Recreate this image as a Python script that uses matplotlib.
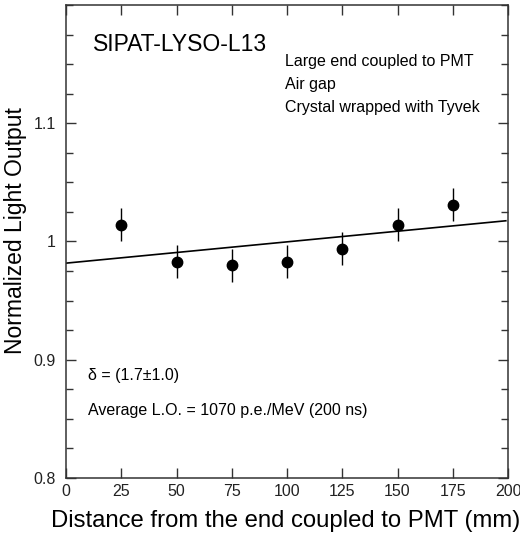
import matplotlib
matplotlib.use("Agg")
import matplotlib.pyplot as plt
import numpy as np
from matplotlib.ticker import MultipleLocator

plt.rcParams['font.family'] = ['Liberation Sans', 'DejaVu Sans']

# Data
distance = [25, 50, 75, 100, 125, 150, 175]
light_output = [1.014, 0.983, 0.980, 0.983, 0.994, 1.014, 1.031]
errors = [0.014, 0.014, 0.014, 0.014, 0.014, 0.014, 0.014]
fit_intercept = 0.9817
fit_slope = 0.000180
fit_range = [0, 199]

fig = plt.figure(figsize=(5.2, 5.35), dpi=100)
ax = fig.add_axes([0.127, 0.1065, 0.85, 0.8842])

xf = np.array(fit_range, dtype=float)
ax.plot(xf, fit_intercept + fit_slope * xf, color='black', lw=1.2)
ax.errorbar(distance, light_output, yerr=errors, fmt='o', color='black',
            ms=7.5, elinewidth=1.0, capsize=0)

ax.set_xlim(0, 200)
ax.set_ylim(0.8, 1.2)
ax.set_xticks([0, 25, 50, 75, 100, 125, 150, 175, 200])
ax.set_yticks([0.8, 0.9, 1.0, 1.1])
ax.set_yticklabels(['0.8', '0.9', '1', '1.1'])
ax.yaxis.set_minor_locator(MultipleLocator(0.025))
ax.tick_params(which='both', direction='in', top=True, right=True,
               labelsize=11.5, color='#333333', labelcolor='#222222')
ax.tick_params(which='major', length=7, width=1)
ax.tick_params(which='minor', length=5, width=1)
ax.tick_params(axis='y', pad=7.5)
ax.tick_params(axis='x', pad=4)
for s in ax.spines.values():
    s.set_color('#333333')
    s.set_linewidth(1.1)

ax.set_xlabel('Distance from the end coupled to PMT (mm)', fontsize=17.2)
ax.xaxis.set_label_coords(0.497, -0.068)
ax.set_ylabel('Normalized Light Output', fontsize=16.5)
ax.yaxis.set_label_coords(-0.088, 0.524)

ax.text(12.2, 1.167, 'SIPAT-LYSO-L13', fontsize=16.5, va='center', ha='left')
for i, t in enumerate(['Large end coupled to PMT', 'Air gap', 'Crystal wrapped with Tyvek']):
    ax.text(99, 1.1525 - i * 0.0197, t, fontsize=11.5, va='center', ha='left')
ax.text(10, 0.8864, 'δ = (1.7±1.0)', fontsize=11.5, va='center', ha='left')
ax.text(10, 0.857, 'Average L.O. = 1070 p.e./MeV (200 ns)', fontsize=11.5, va='center', ha='left')

fig.savefig('out.png', dpi=100)
